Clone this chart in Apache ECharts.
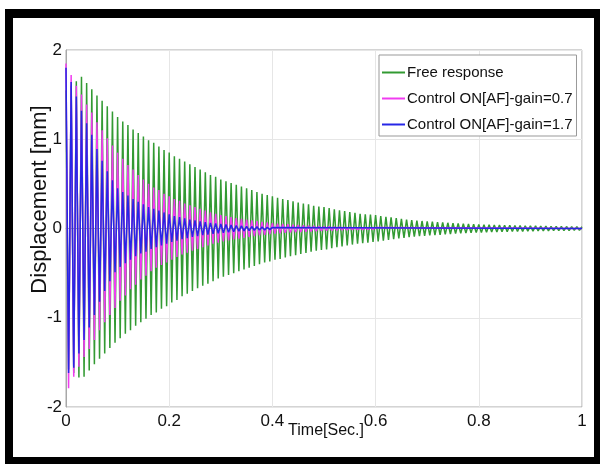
<!DOCTYPE html>
<html>
<head>
<meta charset="utf-8">
<script src="https://cdn.jsdelivr.net/npm/echarts@6/dist/echarts.min.js"></script>
<style>
  html, body { margin: 0; padding: 0; background: #fff; }
  #chart { position: absolute; left: 0; top: 0; width: 604px; height: 464px; }
  #frame {
    position: absolute; left: 5px; top: 9px; width: 595px; height: 455px;
    box-sizing: border-box; border-style: solid; border-color: #000;
    border-width: 9px 6px 7px 8px; pointer-events: none; z-index: 10;
  }
</style>
</head>
<body>
<div id="chart"></div>
<div id="frame"></div>
<script>
// half-period sample spacing (s) - each value below is one peak of the oscillation
var sampleStep = 0.005
var endTime = 1
var tailValue = 0

var seriesNames = ['Free response', 'Control ON[AF]-gain=0.7', 'Control ON[AF]-gain=1.7']
var xTicks = [0, 0.2, 0.4, 0.6, 0.8, 1]
var yTicks = [-2, -1, 0, 1, 2]

// free response peaks
var freeResponse = [
  1.55, -1.58, 1.60, -1.62, 1.65, -1.67, 1.70,
  -1.66, 1.63, -1.59, 1.56, -1.52, 1.49, -1.46, 1.43, -1.40, 1.37, -1.34, 1.31, -1.28, 1.25,
  -1.23, 1.20, -1.18, 1.16, -1.14, 1.11, -1.09, 1.07, -1.05, 1.03, -1.01, 0.99, -0.97, 0.96, -0.94, 0.92, -0.90, 0.88, -0.87, 0.85,
  -0.83, 0.81, -0.80, 0.78, -0.76, 0.75, -0.73, 0.72, -0.70, 0.69, -0.67, 0.66, -0.64, 0.63, -0.62, 0.60, -0.59, 0.58, -0.56, 0.55,
  -0.54, 0.53, -0.52, 0.51, -0.50, 0.49, -0.48, 0.47, -0.46, 0.45, -0.44, 0.43, -0.42, 0.41, -0.40, 0.39, -0.38, 0.375, -0.37, 0.36,
  -0.35, 0.345, -0.34, 0.33, -0.325, 0.32, -0.31, 0.305, -0.30, 0.29, -0.285, 0.28, -0.275, 0.27, -0.26, 0.255, -0.25, 0.245, -0.24, 0.24,
  -0.235, 0.23, -0.22, 0.215, -0.21, 0.205, -0.20, 0.195, -0.19, 0.185, -0.18, 0.175, -0.17, 0.165, -0.165, 0.16, -0.16, 0.155, -0.15, 0.15,
  -0.145, 0.14, -0.135, 0.13, -0.128, 0.124, -0.12, 0.116, -0.112, 0.108, -0.105, 0.10, -0.098, 0.095, -0.092, 0.089, -0.086, 0.084, -0.082, 0.08,
  -0.078, 0.076, -0.074, 0.072, -0.070, 0.068, -0.066, 0.064, -0.062, 0.060, -0.058, 0.057, -0.055, 0.053, -0.052, 0.050, -0.049, 0.048, -0.046, 0.045,
  -0.044, 0.043, -0.042, 0.041, -0.040, 0.040, -0.039, 0.038, -0.037, 0.036, -0.036, 0.035, -0.034, 0.033, -0.033, 0.032, -0.032, 0.031, -0.030, 0.030,
  -0.029, 0.029, -0.028, 0.027, -0.027, 0.026, -0.026, 0.025, -0.025, 0.024, -0.024, 0.023, -0.023, 0.022, -0.022, 0.021, -0.021, 0.021, -0.020, 0.020
]

// gain 0.7 peaks (magenta)
var gain07 = [
  1.85, -1.79, 1.72, -1.66, 1.60, -1.55, 1.50, -1.44, 1.39, -1.35, 1.30,
  -1.25, 1.19, -1.14, 1.10, -1.05, 1.01, -0.97, 0.93, -0.89, 0.85,
  -0.81, 0.78, -0.75, 0.71, -0.68, 0.66, -0.63, 0.60, -0.57, 0.55,
  -0.53, 0.50, -0.48, 0.46, -0.44, 0.43, -0.41, 0.39, -0.38, 0.36,
  -0.35, 0.33, -0.32, 0.31, -0.29, 0.28, -0.27, 0.26, -0.25, 0.24,
  -0.23, 0.22, -0.21, 0.20, -0.19, 0.18, -0.17, 0.165, -0.16, 0.15,
  -0.145, 0.14, -0.133, 0.128, -0.122, 0.117, -0.113, 0.108, -0.104, 0.10,
  -0.095, 0.09, -0.086, 0.082, -0.078, 0.074, -0.07, 0.067, -0.063, 0.06,
  -0.058, 0.055, -0.053, 0.051, -0.049, 0.047, -0.045, 0.043, -0.042, 0.04,
  -0.038, 0.036, -0.035, 0.033, -0.032, 0.03, -0.029, 0.028, -0.026, 0.025,
  -0.024, 0.023, -0.022, 0.021, -0.02, 0.019, -0.018, 0.017, -0.016, 0.016,
  -0.015, 0.014, -0.014, 0.013, -0.012, 0.012, -0.011, 0.011, -0.01, 0.01
]

// gain 1.7 peaks (blue)
var gain17 = [
  1.80, -1.62, 1.64, -1.56, 1.48, -1.40, 1.32, -1.25, 1.18, -1.11, 1.05,
  -0.97, 0.89, -0.82, 0.76, -0.70, 0.64, -0.59, 0.54, -0.49, 0.45,
  -0.43, 0.41, -0.39, 0.37, -0.35, 0.33, -0.31, 0.30, -0.28, 0.27,
  -0.26, 0.24, -0.23, 0.22, -0.21, 0.20, -0.19, 0.18, -0.17, 0.16,
  -0.15, 0.14, -0.135, 0.127, -0.12, 0.113, -0.107, 0.1, -0.095, 0.09,
  -0.085, 0.08, -0.075, 0.07, -0.067, 0.063, -0.06, 0.056, -0.053, 0.05,
  -0.047, 0.044, -0.041, 0.038, -0.036, 0.034, -0.031, 0.029, -0.027, 0.025,
  -0.023, 0.022, -0.02, 0.019, -0.018, 0.017, -0.016, 0.014, -0.013, 0.012
]

var colors = ['#329a32', '#f03cf0', '#2626e6']
var font = "'Liberation Sans', Arial, sans-serif"

function toPoints(values, withTail) {
  var pts = values.map(function (v, k) { return [k * sampleStep, v] })
  if (withTail) pts.push([endTime, tailValue])
  return pts
}

var chart = echarts.init(document.getElementById('chart'), null, { renderer: 'canvas' })

var option = {
  animation: false,
  backgroundColor: '#fff',
  color: colors,
  grid: {
    left: 66, right: 22, top: 50, bottom: 57,
    show: true, borderColor: '#a8a8a8', borderWidth: 1, backgroundColor: '#fff'
  },
  legend: {
    orient: 'vertical',
    left: 379, top: 55,
    backgroundColor: '#fff',
    borderColor: '#999', borderWidth: 1,
    padding: [10, 4, 4, 3],
    itemGap: 11,
    itemWidth: 23, itemHeight: 2,
    icon: 'rect',
    textStyle: { fontFamily: font, fontSize: 15, color: '#111', padding: [0, 0, 0, -3] },
    data: seriesNames
  },
  xAxis: {
    type: 'value',
    min: xTicks[0], max: xTicks[xTicks.length - 1], interval: 0.2,
    name: 'Time[Sec.]',
    nameLocation: 'middle',
    nameGap: 16,
    nameMoveOverlap: false,
    nameTextStyle: { fontFamily: font, fontSize: 16, color: '#111', verticalAlign: 'top', padding: [0, 0, 0, 4] },
    axisLine: { show: true, lineStyle: { color: '#a8a8a8' } },
    axisTick: { show: false },
    axisLabel: { fontFamily: font, fontSize: 17, color: '#111', margin: 6 },
    splitLine: { show: true, lineStyle: { color: '#e6e6e6' } }
  },
  yAxis: {
    type: 'value',
    min: yTicks[0], max: yTicks[yTicks.length - 1], interval: 1,
    name: 'Displacement [mm]',
    nameLocation: 'middle',
    nameGap: 15,
    nameMoveOverlap: false,
    nameRotate: 90,
    nameTextStyle: { fontFamily: font, fontSize: 22, color: '#111', padding: [0, 0, 0, 58] },
    axisLine: { show: true, lineStyle: { color: '#a8a8a8' } },
    axisTick: { show: false },
    axisLabel: { fontFamily: font, fontSize: 17, color: '#111', margin: 4 },
    splitLine: { show: true, lineStyle: { color: '#e6e6e6' } }
  },
  series: [
    { name: seriesNames[0], type: 'line', data: toPoints(freeResponse, false), showSymbol: false, lineStyle: { width: 1.5 } },
    { name: seriesNames[1], type: 'line', data: toPoints(gain07, true), showSymbol: false, lineStyle: { width: 1.5 } },
    { name: seriesNames[2], type: 'line', data: toPoints(gain17, true), showSymbol: false, lineStyle: { width: 1.5 } }
  ]
}

chart.setOption(option)
</script>
</body>
</html>
